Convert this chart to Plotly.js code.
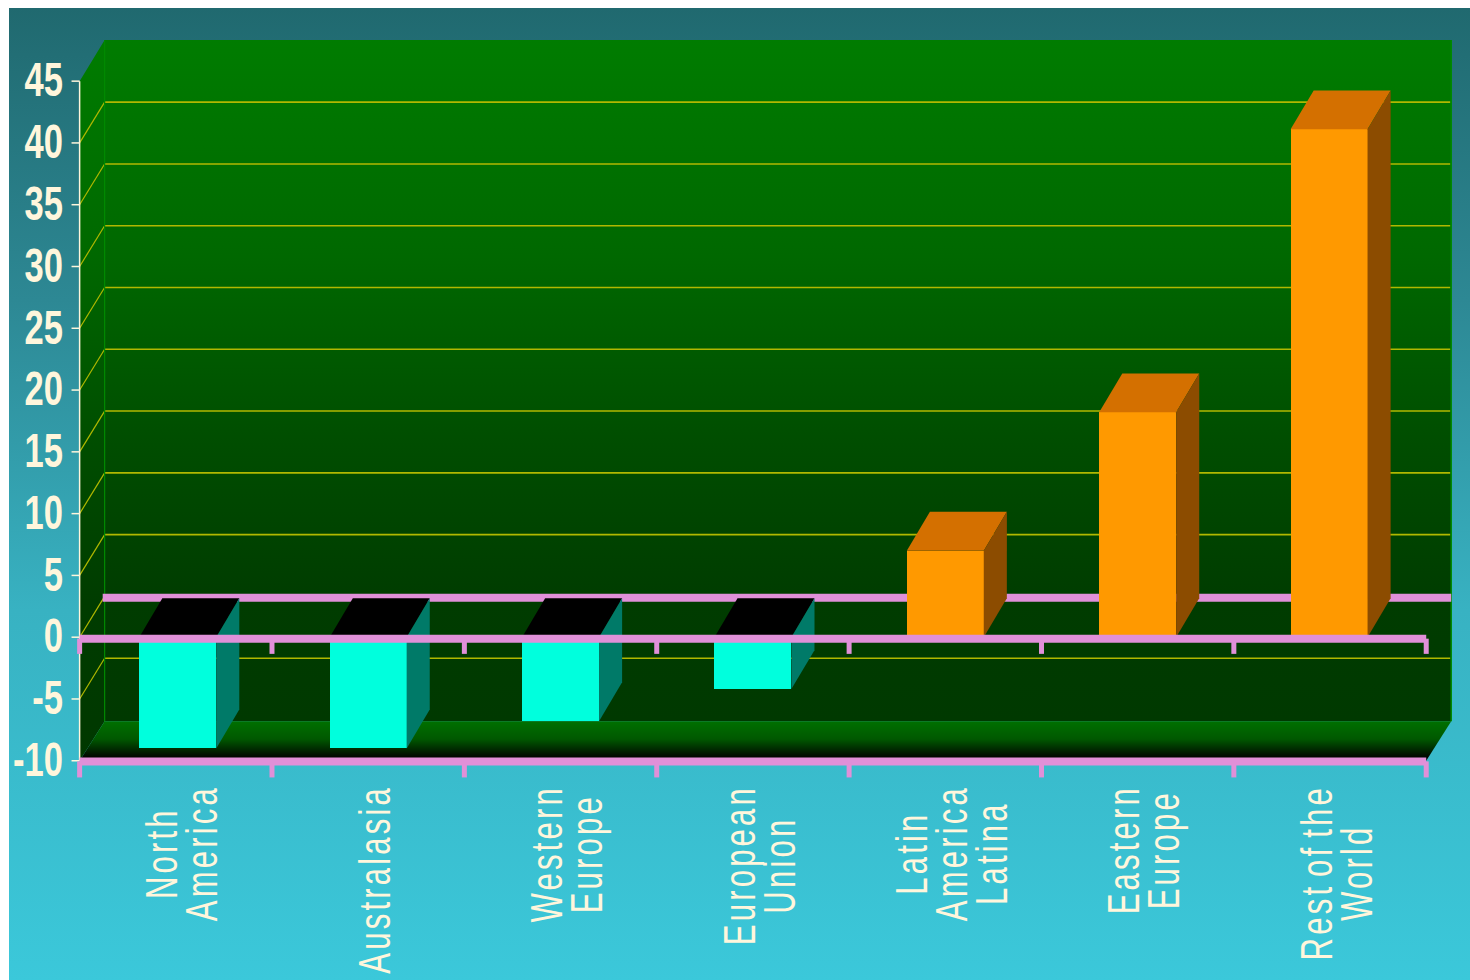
<!DOCTYPE html>
<html>
<head>
<meta charset="utf-8">
<script src="https://cdn.plot.ly/plotly-3.0.1.min.js"></script>
<style>
html,body{margin:0;padding:0;background:#fff;width:1470px;height:980px;overflow:hidden}
#bg{position:absolute;left:9px;top:8px;right:0;bottom:0;background:linear-gradient(180deg,#20696f 0%,#2d8894 30%,#38b2c2 62%,#3bc8da 100%)}
#chart{position:absolute;left:0;top:0;width:1470px;height:980px}
</style>
</head>
<body>
<div id="bg"></div>
<div id="chart"></div>
<script>
var categories = ["North<br>America","Australasia","Western<br>Europe","European<br>Union","Latin<br>America<br>Latina","Eastern<br>Europe","Rest of the<br>World"];
var categorySlots = [0.51,1.5,2.5,3.5,4.5,5.5,6.495];
var values = [-9,-9,-6.8,-4.2,7,18.2,41.1];
var yTicks = [-10,-5,0,5,10,15,20,25,30,35,40,45];
var xBoundaries = [0,1,2,3,4,5,6,7];

var COL = {pos:"#ff9900",posTop:"#d47000",posSide:"#8c4c00",neg:"#00ffdd",negTop:"#000000",negSide:"#007a68",
           pink:"#e090d8",grid:"#b0b800",cream:"#fff6dc",edge:"#008a00"};
var BAR_W = 0.4, BAR_DX = 0.12, BAR_DY = 3.15, WALL_DX = 0.13, WALL_DY = 3.3, FLOOR_DY = 3.2, XMAX = 7.13, YMAX = 48.33;
var XLO = -0.05, XHI = 7.16, YLO = -11.8;

function poly(color, xs, ys, ax){
  return {type:"scatter",mode:"none",fill:"toself",fillcolor:color,x:xs,y:ys,hoverinfo:"skip",showlegend:false,
          xaxis:ax?"x2":"x",yaxis:ax?"y2":"y"};
}
function line(color,w,xs,ys,ax){
  return {type:"scatter",mode:"lines",line:{color:color,width:w,simplify:false},x:xs,y:ys,
          hoverinfo:"skip",showlegend:false,xaxis:ax?"x2":"x",yaxis:ax?"y2":"y"};
}

var traces = [];
var wall = poly(null,[0,WALL_DX,XMAX,XMAX,WALL_DX,0,0],[yTicks[11],YMAX,YMAX,-10+FLOOR_DY,-10+FLOOR_DY,-10,yTicks[11]]);
delete wall.fillcolor;
wall.fillgradient = {type:"vertical",colorscale:[[0,"#003800"],[0.22,"#003c00"],[0.45,"#004e00"],[0.7,"#006800"],[1,"#007c00"]]};
traces.push(wall);
var floor = poly(null,[0,WALL_DX,XMAX,7,0],[-10,-10+FLOOR_DY,-10+FLOOR_DY,-10,-10]);
delete floor.fillcolor;
floor.fillgradient = {type:"vertical",colorscale:[[0,"#000000"],[0.1,"#000800"],[0.55,"#005800"],[1,"#007000"]]};
traces.push(floor);
yTicks.forEach(function(v){
  if(v===-10||v===45) return;
  traces.push(line(COL.grid,1.2,[0,WALL_DX],[v,v+WALL_DY],false));
  if(v!==0) traces.push(line(COL.grid,1.6,[WALL_DX,XMAX-0.005],[v+WALL_DY,v+WALL_DY],false));
});
traces.push(line(COL.edge,1.2,[WALL_DX,WALL_DX],[YMAX,-10+FLOOR_DY],false));
traces.push(line(COL.edge,1.5,[XMAX,XMAX],[YMAX,-10+FLOOR_DY],false));
traces.push(line(COL.pink,8,[WALL_DX-0.01,XMAX],[FLOOR_DY,FLOOR_DY],false));
traces.push(line(COL.cream,1.5,[0,0],[-10,45],false));
yTicks.forEach(function(v){ traces.push(line(COL.cream,1.5,[-0.042,0],[v,v],false)); });

traces.push({type:"bar",x:categorySlots,y:values,width:BAR_W,xaxis:"x2",yaxis:"y2",hoverinfo:"skip",showlegend:false,
  marker:{color:values.map(function(v){return v<0?COL.neg:COL.pos;}),line:{width:0}}});
values.forEach(function(v,i){
  var l=categorySlots[i]-BAR_W/2,r=categorySlots[i]+BAR_W/2,t=Math.max(v,0),b=Math.min(v,0);
  traces.push(poly(v<0?COL.negTop:COL.posTop,[l,l+BAR_DX,r+BAR_DX,r,l],[t,t+BAR_DY,t+BAR_DY,t,t],true));
  traces.push(poly(v<0?COL.negSide:COL.posSide,[r,r+BAR_DX,r+BAR_DX,r,r],[t,t+BAR_DY,b+BAR_DY,b,t],true));
});
traces.push(line(COL.pink,8,[0,7],[-0.12,-0.12],true));
traces.push(line(COL.pink,8,[0,7],[-10.05,-10.05],true));
xBoundaries.forEach(function(b){
  traces.push(line(COL.pink,5,[b,b],[-0.12,-1.35],true));
  traces.push(line(COL.pink,5,[b,b],[-10.05,-11.35],true));
});

var FONT = "'Liberation Sans',Arial,sans-serif";
var layout = {
  width:1470,height:980,autosize:false,showlegend:false,
  paper_bgcolor:"rgba(0,0,0,0)",plot_bgcolor:"rgba(0,0,0,0)",
  margin:{l:70.4,r:13.1,t:40,b:196.8,pad:0},
  bargap:0,
  xaxis:{range:[XLO,XHI],visible:false,showgrid:false,zeroline:false,fixedrange:true},
  yaxis:{range:[YLO,YMAX],tickmode:"array",tickvals:yTicks,ticktext:yTicks.map(String),ticks:"",ticklabelstandoff:6,
         showgrid:false,zeroline:false,showline:false,fixedrange:true,
         tickfont:{family:FONT,size:48,color:COL.cream,weight:"bold"}},
  xaxis2:{overlaying:"x",anchor:"y2",range:[XLO,XHI],tickmode:"array",tickvals:categorySlots,ticktext:categories,tickangle:-90,
          ticks:"",showgrid:false,zeroline:false,showline:false,fixedrange:true,
          tickfont:{family:FONT,size:44.5,color:COL.cream}},
  yaxis2:{overlaying:"y",anchor:"x2",range:[YLO,YMAX],showgrid:false,zeroline:false,showline:false,showticklabels:false,ticks:"",fixedrange:true}
};

var LINE_PITCH = 40, LABEL_TOP = 785, LABEL_CX_OFFSET = 6, X_SQUEEZE = 0.7, Y_SQUEEZE = 0.72;
function squeeze(t,s,lift){
  var x = parseFloat(t.getAttribute("x")), y = parseFloat(t.getAttribute("y"))||0;
  t.setAttribute("transform",(lift?"translate(0,"+lift+") ":"")+(t.getAttribute("transform")||"")+" translate("+x+","+y+") scale("+s+",1) translate("+(-x)+","+(-y)+")");
}
function tidyLabels(gd){
  var ax = gd._fullLayout.xaxis2;
  Array.prototype.slice.call(gd.querySelectorAll(".ytick text")).forEach(function(t){ squeeze(t,Y_SQUEEZE,-1.5); });
  var nodes = Array.prototype.slice.call(gd.querySelectorAll(".x2tick text")).filter(function(n){return n.textContent.length>0;});
  nodes.forEach(function(t,idx){
    t.style.letterSpacing = "4.5px";
    t.style.wordSpacing = "-7px";
    var lines = Array.prototype.slice.call(t.querySelectorAll("tspan.line"));
    if(lines.length){
      var lens = lines.map(function(l){return l.getComputedTextLength();});
      var maxLen = Math.max.apply(null,lens);
      var x0 = parseFloat(t.getAttribute("x")), y0 = parseFloat(t.getAttribute("y"));
      lines.forEach(function(l,i){
        l.setAttribute("x",x0-(maxLen-lens[i])/2);
        l.setAttribute("y",y0+i*LINE_PITCH);
        l.setAttribute("dy","0");
      });
    }
    squeeze(t,X_SQUEEZE);
    var r = t.getBoundingClientRect();
    var target = ax._offset + ax.l2p(idx+0.5) + LABEL_CX_OFFSET;
    var dx = target-(r.left+r.right)/2, dy = LABEL_TOP-r.top;
    t.setAttribute("transform","translate("+dx+","+dy+") "+(t.getAttribute("transform")||""));
  });
}
var gd = document.getElementById("chart");
Plotly.newPlot(gd,traces,layout,{displayModeBar:false,staticPlot:true}).then(function(){tidyLabels(gd);});
</script>
</body>
</html>
